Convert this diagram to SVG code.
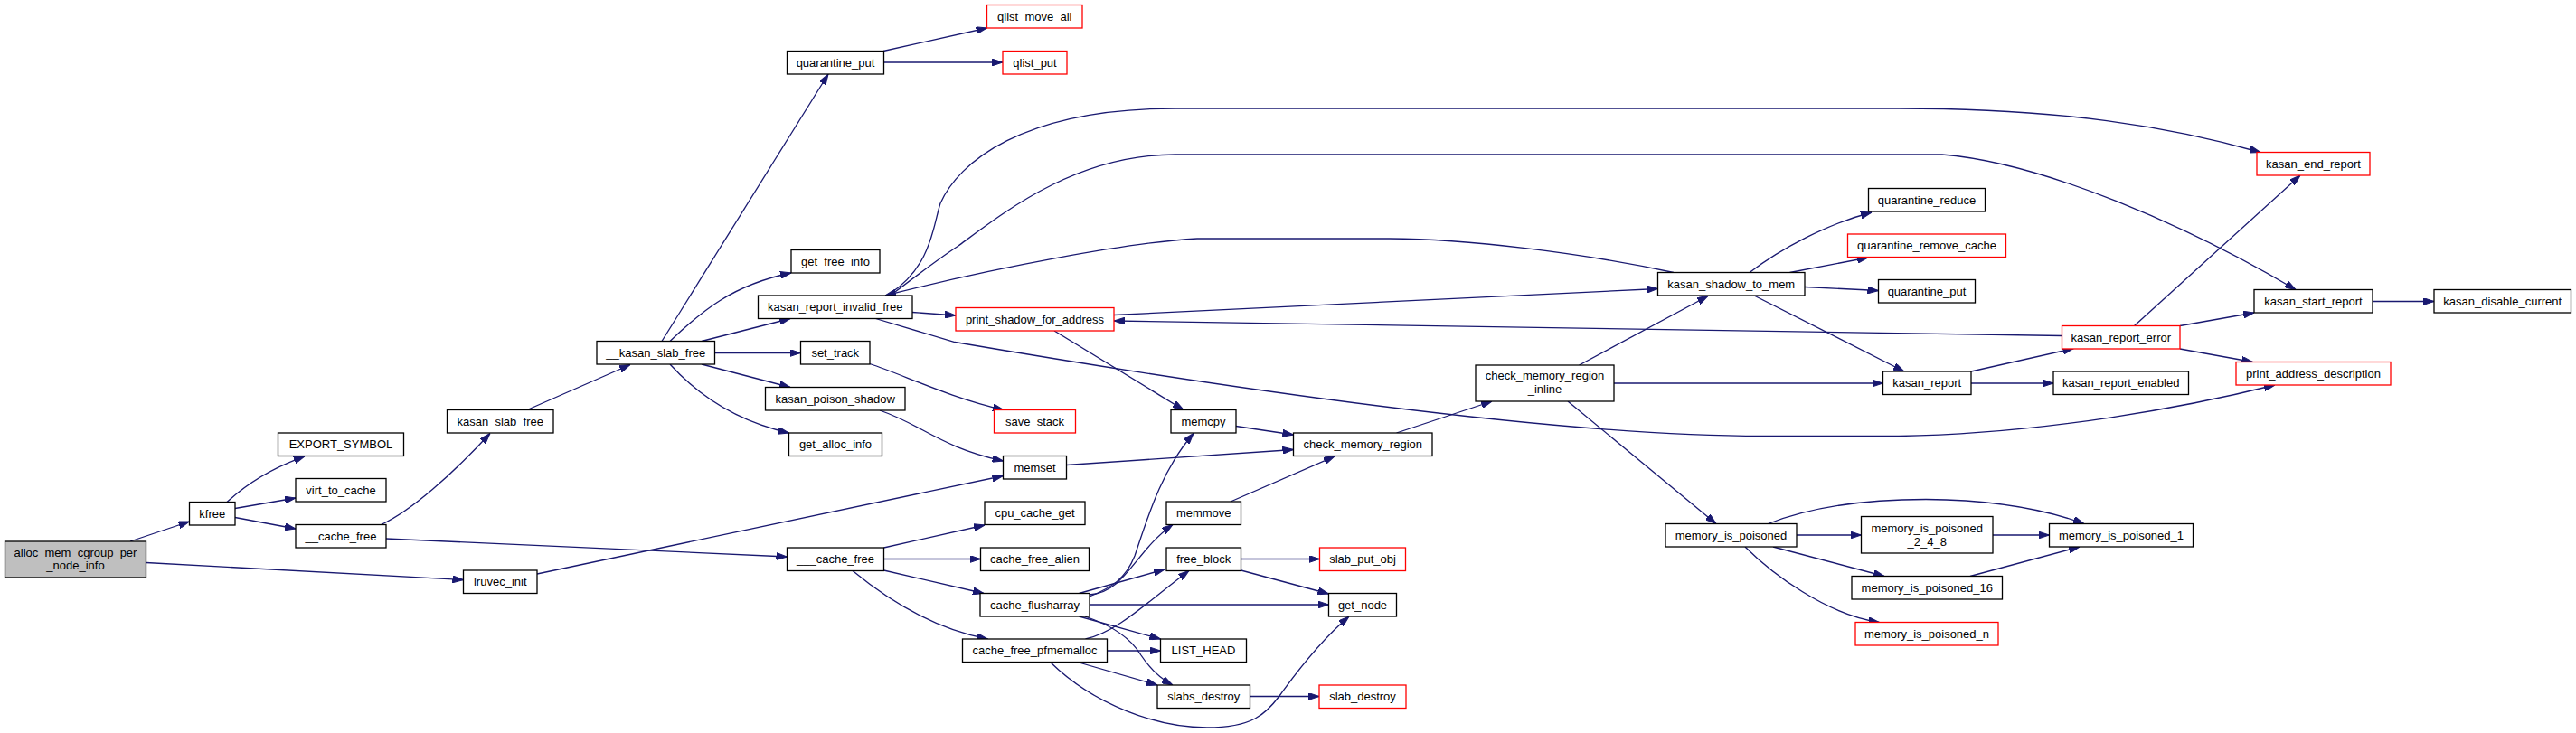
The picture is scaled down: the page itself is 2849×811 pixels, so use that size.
<svg xmlns="http://www.w3.org/2000/svg" width="2849" height="811" viewBox="0 0 2849 811">
<style>
.n rect{fill:#fff;stroke:#000;stroke-width:1.3}
.n.r rect{stroke:#ff0000}
.n.g rect{fill:#bfbfbf}
text{font-family:"Liberation Sans",Arial,Helvetica,sans-serif;font-size:13px;text-anchor:middle;fill:#000}
#edges path{fill:none;stroke:#191970;stroke-width:1.3;marker-end:url(#a)}
</style>
<defs>
<marker id="a" markerWidth="12" markerHeight="8" refX="12" refY="4" orient="auto" markerUnits="userSpaceOnUse" viewBox="0 0 12 8"><path d="M0,0 L12,4 L0,8 z" fill="#191970" stroke="#191970" stroke-width="1"/></marker>
</defs>
<rect width="2849" height="811" fill="#fff"/>
<g id="edges">
<path d="M144,599 L209.5,577"/>
<path d="M161.5,622.5 L512.5,641.5"/>
<path d="M251,555.5 C270,538 300,518 337,505"/>
<path d="M260,562.5 L327,551"/>
<path d="M260,572.5 L327,585"/>
<path d="M421.5,580.5 C455,565 500,525 542,479.5"/>
<path d="M427,596 L870.5,616"/>
<path d="M594,635 L1109.5,526.5"/>
<path d="M583,453.5 L697,403.5"/>
<path d="M732,377.5 L916,82"/>
<path d="M741,377.5 C775,345 810,315 875,302"/>
<path d="M776,377.5 L874,352.5"/>
<path d="M790.5,390.5 L885.5,390.5"/>
<path d="M776,403 L874,428.5"/>
<path d="M741,403 C770,435 810,465 872.5,479"/>
<path d="M977,56.5 L1091.5,31"/>
<path d="M977.5,69 L1109,69"/>
<path d="M962,402.5 C1000,415 1050,440 1110,453.5"/>
<path d="M973,454 C1020,470 1040,495 1109.5,510"/>
<path d="M1009,345.5 L1057,349"/>
<path d="M968.5,352.5 L1056,378.5 C1300,420 1700,482 1950,482.5 L2100,482.5 C2260,480 2420,450 2516,426"/>
<path d="M1166,366 L1309,453.5"/>
<path d="M984,325 C1030,295 1032,250 1040,225 C1060,180 1130,120 1300,120 L2100,120 C2280,120 2400,140 2500,168.5"/>
<path d="M986,326 C1020,300 1040,285 1060,272 C1110,235 1190,171 1300,171 L2148,171 C2260,180 2420,250 2539,320.5"/>
<path d="M1851,301.5 C1750,280 1620,264 1537,264 L1324,264 C1250,268 1100,296 979,327"/>
<path d="M1232,348.5 L1833.5,319.5"/>
<path d="M2280.5,371.5 L1232,355"/>
<path d="M1746.5,404 L1889,327.5"/>
<path d="M1935,301.5 C1970,275 2020,248 2070,235"/>
<path d="M1979.5,301.5 L2066,285"/>
<path d="M1996,317.5 L2077.5,321.5"/>
<path d="M1941,327.5 L2106,411"/>
<path d="M1544.5,479 L1650,444"/>
<path d="M1367,471.5 L1430.5,481"/>
<path d="M1179.5,514.5 L1430.5,497.5"/>
<path d="M1361,555 L1476,505"/>
<path d="M1785,424 L2082.5,424"/>
<path d="M1734,444 L1898,579.5"/>
<path d="M1955.5,579.5 C2000,562 2060,552.5 2130,552.5 C2200,553 2260,563 2305,579.5"/>
<path d="M1987,592 L2058.5,592"/>
<path d="M1961,605 L2084,637.5"/>
<path d="M1930,605 C1960,635 2020,680 2078.5,688.5"/>
<path d="M2204,592 L2266.5,592"/>
<path d="M2179,637.5 L2300,605"/>
<path d="M1372.5,618.5 L1459.5,618.5"/>
<path d="M1372.5,631 L1469.5,657"/>
<path d="M1205,669 L1469.5,669"/>
<path d="M1382.5,770.5 L1459,770.5"/>
<path d="M1161.5,732.5 C1210,780 1280,805 1335,805 C1385,805 1400,790 1415,770 C1440,735 1465,705 1492,682"/>
<path d="M977.5,606 L1089,581"/>
<path d="M977.5,618.5 L1084.5,618.5"/>
<path d="M977.5,631 L1088,656.5"/>
<path d="M943,631.5 C980,662 1030,695 1092.5,707"/>
<path d="M1205,660 C1230,650 1245,640 1255,615 C1270,570 1285,520 1320,479.5"/>
<path d="M1205,658 C1245,655 1255,610 1297,580.5"/>
<path d="M1193.5,656.5 L1288,630"/>
<path d="M1193.5,682 L1283.5,707"/>
<path d="M1200,682 C1230,692 1250,705 1262,725 C1272,740 1282,750 1297,758"/>
<path d="M1200.5,707 C1235,700 1270,665 1315,631.5"/>
<path d="M1224.5,720 L1283.5,720"/>
<path d="M1191.5,732.5 L1280,758"/>
<path d="M2360.5,360.5 L2544,194"/>
<path d="M2411,360.5 L2493,346"/>
<path d="M2411,386 L2491.5,400.5"/>
<path d="M2624,333.5 L2692,333.5"/>
<path d="M2180,411 L2293.5,385.5"/>
<path d="M2180,424 L2271,424"/>
</g>
<g id="n1" class="n g"><rect x="5.5" y="599" width="156" height="40"/><text x="83.5" y="615.5">alloc_mem_cgroup_per</text><text x="83.5" y="629.5">_node_info</text></g>
<g id="n2" class="n"><rect x="209.5" y="555.5" width="50.5" height="25.5"/><text x="234.75" y="572.75">kfree</text></g>
<g id="n3" class="n"><rect x="307.5" y="479" width="139" height="25.5"/><text x="377" y="496.25">EXPORT_SYMBOL</text></g>
<g id="n4" class="n"><rect x="327" y="529.5" width="100" height="25.5"/><text x="377" y="546.75">virt_to_cache</text></g>
<g id="n5" class="n"><rect x="327" y="580.5" width="100" height="25.5"/><text x="377" y="597.75">__cache_free</text></g>
<g id="n6" class="n"><rect x="494.5" y="453.5" width="117.5" height="25.5"/><text x="553.25" y="470.75">kasan_slab_free</text></g>
<g id="n7" class="n"><rect x="512.5" y="631" width="81.5" height="25.5"/><text x="553.25" y="648.25">lruvec_init</text></g>
<g id="n8" class="n"><rect x="660" y="377.5" width="130.5" height="25.5"/><text x="725.25" y="394.75">__kasan_slab_free</text></g>
<g id="n9" class="n"><rect x="870.5" y="56.5" width="107" height="25.5"/><text x="924" y="73.75">quarantine_put</text></g>
<g id="n10" class="n r"><rect x="1091.5" y="5.5" width="105.5" height="25.5"/><text x="1144.25" y="22.75">qlist_move_all</text></g>
<g id="n11" class="n r"><rect x="1109" y="56.5" width="71" height="25.5"/><text x="1144.5" y="73.75">qlist_put</text></g>
<g id="n12" class="n"><rect x="875" y="276.5" width="98" height="25.5"/><text x="924" y="293.75">get_free_info</text></g>
<g id="n13" class="n"><rect x="838.5" y="327" width="170.5" height="25.5"/><text x="923.75" y="344.25">kasan_report_invalid_free</text></g>
<g id="n14" class="n r"><rect x="1057" y="340.5" width="175" height="25.5"/><text x="1144.5" y="357.75">print_shadow_for_address</text></g>
<g id="n15" class="n"><rect x="885.5" y="377.5" width="76.5" height="25.5"/><text x="923.75" y="394.75">set_track</text></g>
<g id="n16" class="n"><rect x="846.5" y="428.5" width="154.5" height="25.5"/><text x="923.75" y="445.75">kasan_poison_shadow</text></g>
<g id="n17" class="n"><rect x="872.5" y="479" width="103" height="25.5"/><text x="924" y="496.25">get_alloc_info</text></g>
<g id="n18" class="n r"><rect x="1099.5" y="453.5" width="90" height="25.5"/><text x="1144.5" y="470.75">save_stack</text></g>
<g id="n19" class="n"><rect x="1109.5" y="504.5" width="70" height="25.5"/><text x="1144.5" y="521.75">memset</text></g>
<g id="n20" class="n"><rect x="1295" y="453.5" width="72" height="25.5"/><text x="1331" y="470.75">memcpy</text></g>
<g id="n21" class="n"><rect x="1089" y="555" width="111" height="25.5"/><text x="1144.5" y="572.25">cpu_cache_get</text></g>
<g id="n22" class="n"><rect x="870.5" y="606" width="107" height="25.5"/><text x="924" y="623.25">___cache_free</text></g>
<g id="n23" class="n"><rect x="1084.5" y="606" width="120" height="25.5"/><text x="1144.5" y="623.25">cache_free_alien</text></g>
<g id="n24" class="n"><rect x="1084" y="656.5" width="121" height="25.5"/><text x="1144.5" y="673.75">cache_flusharray</text></g>
<g id="n25" class="n"><rect x="1064.5" y="707" width="160" height="25.5"/><text x="1144.5" y="724.25">cache_free_pfmemalloc</text></g>
<g id="n26" class="n"><rect x="1290" y="555" width="82.5" height="25.5"/><text x="1331.25" y="572.25">memmove</text></g>
<g id="n27" class="n"><rect x="1290" y="606" width="82.5" height="25.5"/><text x="1331.25" y="623.25">free_block</text></g>
<g id="n28" class="n"><rect x="1283.5" y="707" width="95" height="25.5"/><text x="1331" y="724.25">LIST_HEAD</text></g>
<g id="n29" class="n"><rect x="1280" y="758" width="102.5" height="25.5"/><text x="1331.25" y="775.25">slabs_destroy</text></g>
<g id="n30" class="n"><rect x="1632" y="404" width="153" height="40"/><text x="1708.5" y="420">check_memory_region</text><text x="1708.5" y="435">_inline</text></g>
<g id="n31" class="n"><rect x="1430.5" y="479" width="153.5" height="25.5"/><text x="1507.25" y="496.25">check_memory_region</text></g>
<g id="n32" class="n r"><rect x="1459.5" y="606" width="95" height="25.5"/><text x="1507" y="623.25">slab_put_obj</text></g>
<g id="n33" class="n"><rect x="1469.5" y="656.5" width="75" height="25.5"/><text x="1507" y="673.75">get_node</text></g>
<g id="n34" class="n r"><rect x="1459" y="758" width="96" height="25.5"/><text x="1507" y="775.25">slab_destroy</text></g>
<g id="n35" class="n"><rect x="1842" y="579.5" width="145" height="25.5"/><text x="1914.5" y="596.75">memory_is_poisoned</text></g>
<g id="n36" class="n"><rect x="2058.5" y="571.5" width="145.5" height="40.5"/><text x="2131.25" y="588.5">memory_is_poisoned</text><text x="2131.25" y="603.5">_2_4_8</text></g>
<g id="n37" class="n"><rect x="2048" y="637.5" width="166.5" height="25.5"/><text x="2131.25" y="654.75">memory_is_poisoned_16</text></g>
<g id="n38" class="n r"><rect x="2052" y="688.5" width="158" height="25.5"/><text x="2131" y="705.75">memory_is_poisoned_n</text></g>
<g id="n39" class="n"><rect x="2082.5" y="411" width="97.5" height="25.5"/><text x="2131.25" y="428.25">kasan_report</text></g>
<g id="n40" class="n"><rect x="2271" y="411" width="149.5" height="25.5"/><text x="2345.75" y="428.25">kasan_report_enabled</text></g>
<g id="n41" class="n r"><rect x="2473" y="400.5" width="171" height="25.5"/><text x="2558.5" y="417.75">print_address_description</text></g>
<g id="n42" class="n"><rect x="2266.5" y="579.5" width="159" height="25.5"/><text x="2346" y="596.75">memory_is_poisoned_1</text></g>
<g id="n43" class="n"><rect x="2066.5" y="208.5" width="129" height="25.5"/><text x="2131" y="225.75">quarantine_reduce</text></g>
<g id="n44" class="n r"><rect x="2043.5" y="259" width="175" height="25.5"/><text x="2131" y="276.25">quarantine_remove_cache</text></g>
<g id="n45" class="n"><rect x="2077.5" y="309.5" width="107" height="25.5"/><text x="2131" y="326.75">quarantine_put</text></g>
<g id="n46" class="n"><rect x="1833.5" y="301.5" width="162.5" height="25.5"/><text x="1914.75" y="318.75">kasan_shadow_to_mem</text></g>
<g id="n47" class="n r"><rect x="2496" y="168.5" width="125" height="25.5"/><text x="2558.5" y="185.75">kasan_end_report</text></g>
<g id="n48" class="n"><rect x="2493" y="320.5" width="131" height="25.5"/><text x="2558.5" y="337.75">kasan_start_report</text></g>
<g id="n49" class="n"><rect x="2692" y="320.5" width="151.5" height="25.5"/><text x="2767.75" y="337.75">kasan_disable_current</text></g>
<g id="n50" class="n r"><rect x="2280.5" y="360.5" width="130.5" height="25.5"/><text x="2345.75" y="377.75">kasan_report_error</text></g>
</svg>
